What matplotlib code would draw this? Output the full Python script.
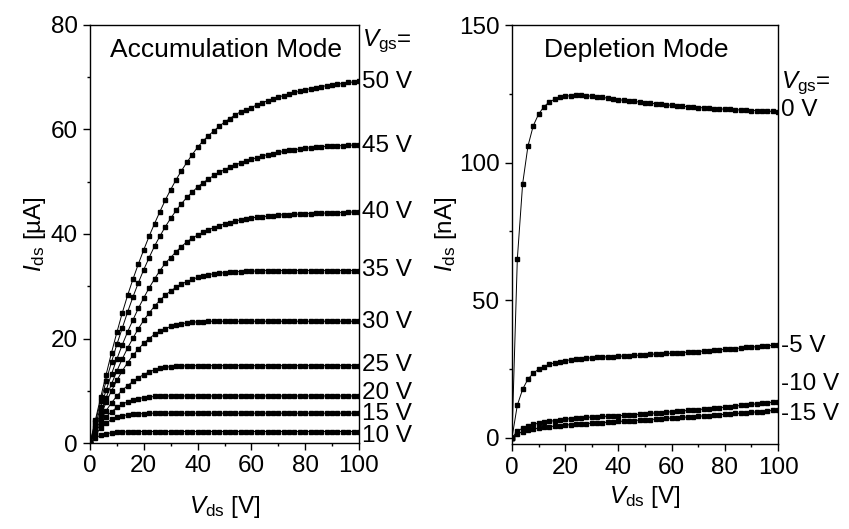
import matplotlib
matplotlib.use("Agg")
import matplotlib.pyplot as plt
from matplotlib.ticker import MultipleLocator

plt.rcParams["font.family"] = ["Liberation Sans", "DejaVu Sans"]
plt.rcParams["mathtext.fontset"] = "custom"
plt.rcParams["mathtext.rm"] = "Liberation Sans"
plt.rcParams["mathtext.it"] = "Liberation Sans:italic"

# drain voltage sweep, every 2 V
vds = list(range(0, 101, 2))

# accumulation mode, I_ds in uA
acc_vgs = ["10 V", "15 V", "20 V", "25 V", "30 V", "35 V", "40 V", "45 V", "50 V"]
acc_10 = [0, 1.0, 1.5, 1.8, 1.95, 2.05, 2.1, 2.15, 2.15, 2.2,
          2.2, 2.2, 2.2, 2.2, 2.2, 2.2, 2.2, 2.2, 2.2, 2.2, 2.2, 2.2, 2.2, 2.2, 2.2, 2.2,
          2.2, 2.2, 2.2, 2.2, 2.2, 2.2, 2.2, 2.2, 2.2, 2.2, 2.2, 2.2, 2.2, 2.2, 2.2, 2.2,
          2.2, 2.2, 2.2, 2.2, 2.2, 2.2, 2.2, 2.2, 2.2]
acc_15 = [0, 1.6, 2.9, 3.8, 4.5, 4.9, 5.2, 5.4, 5.5, 5.6, 5.6, 5.7,
          5.7, 5.7, 5.7, 5.7, 5.7, 5.7, 5.7, 5.7, 5.7, 5.7, 5.7, 5.7, 5.7, 5.7,
          5.7, 5.7, 5.7, 5.7, 5.7, 5.7, 5.7, 5.7, 5.7, 5.7, 5.7, 5.7, 5.7, 5.7,
          5.7, 5.7, 5.7, 5.7, 5.7, 5.7, 5.7, 5.7, 5.7, 5.7, 5.7]
acc_20 = [0, 2.0, 3.7, 5.0, 6.0, 6.8, 7.4, 7.9, 8.3, 8.5, 8.7, 8.8, 8.9, 8.9,
          9.0, 9.0, 9.0, 9.0, 9.0, 9.0, 9.0, 9.0, 9.0, 9.0, 9.0, 9.0, 9.0,
          9.0, 9.0, 9.0, 9.0, 9.0, 9.0, 9.0, 9.0, 9.0, 9.0, 9.0, 9.0, 9.0,
          9.0, 9.0, 9.0, 9.0, 9.0, 9.0, 9.0, 9.0, 9.0, 9.0, 9.0]
acc_25 = [0, 2.3, 4.4, 6.2, 7.7, 9.0, 10.1, 11.0, 11.8, 12.5, 13.1, 13.6,
          14.0, 14.3, 14.5, 14.6, 14.7, 14.7,
          14.8, 14.8, 14.8, 14.8, 14.8, 14.8, 14.8, 14.8, 14.8, 14.8, 14.8,
          14.8, 14.8, 14.8, 14.8, 14.8, 14.8, 14.8, 14.8, 14.8, 14.8, 14.8,
          14.8, 14.8, 14.8, 14.8, 14.8, 14.8, 14.8, 14.8, 14.8, 14.8, 14.8]
acc_30 = [0, 2.7, 5.3, 7.8, 10.0, 12.0, 13.8, 15.4, 16.8, 18.0, 19.1, 20.0,
          20.8, 21.4, 21.9, 22.3, 22.6, 22.8, 23.0, 23.1, 23.2, 23.2,
          23.3, 23.3, 23.3, 23.3, 23.3, 23.3, 23.3, 23.3, 23.3, 23.3, 23.3,
          23.3, 23.3, 23.3, 23.3, 23.3, 23.3, 23.3, 23.3, 23.3, 23.3, 23.3,
          23.3, 23.3, 23.3, 23.3, 23.3, 23.3, 23.3]
acc_35 = [0, 3.0, 5.9, 8.7, 11.3, 13.8, 16.1, 18.2, 20.1, 21.9, 23.5, 24.9,
          26.2, 27.3, 28.3, 29.1, 29.8, 30.4, 30.9, 31.3, 31.7, 32.0, 32.2,
          32.4, 32.5, 32.6, 32.7, 32.8, 32.8, 32.9, 32.9, 32.9,
          33.0, 33.0, 33.0, 33.0, 33.0, 33.0, 33.0, 33.0, 33.0, 33.0,
          33.0, 33.0, 33.0, 33.0, 33.0, 33.0, 33.0, 33.0, 33.0]
acc_40 = [0, 3.5, 6.9, 10.1, 13.2, 16.1, 18.8, 21.3, 23.6, 25.8, 27.8, 29.7,
          31.4, 33.0, 34.4, 35.5, 36.6, 37.6, 38.5, 39.2, 39.8, 40.3, 40.8,
          41.2, 41.6, 41.9, 42.2, 42.5, 42.7, 42.9, 43.1, 43.2, 43.3, 43.4,
          43.5, 43.6, 43.7, 43.7, 43.8, 43.8, 43.9, 43.9, 44.0, 44.0, 44.0,
          44.1, 44.1, 44.1, 44.2, 44.2, 44.2]
acc_45 = [0, 4.0, 8.0, 11.9, 15.5, 18.9, 22.0, 25.1, 28.0, 30.7, 33.2, 35.5,
          37.7, 39.6, 41.4, 43.0, 44.5, 45.8, 47.0, 48.0, 49.0, 49.8, 50.5,
          51.2, 51.8, 52.3, 52.8, 53.2, 53.6, 54.0, 54.3, 54.6, 54.9, 55.2,
          55.4, 55.6, 55.8, 56.0, 56.1, 56.3, 56.4, 56.5, 56.6, 56.7, 56.8,
          56.8, 56.9, 56.9, 57.0, 57.0, 57.1]
acc_50 = [0, 4.4, 8.8, 13.1, 17.3, 21.2, 24.9, 28.3, 31.4, 34.3, 37.0, 39.6,
          42.0, 44.3, 46.5, 48.5, 50.4, 52.1, 53.7, 55.2, 56.6, 57.8, 58.8,
          59.7, 60.6, 61.4, 62.1, 62.8, 63.4, 63.8, 64.2, 64.7, 65.1, 65.5,
          65.9, 66.2, 66.5, 66.8, 67.1, 67.3, 67.6, 67.8, 68.0, 68.2, 68.4,
          68.5, 68.7, 68.8, 69.0, 69.1, 69.3]
acc_curves = [acc_10, acc_15, acc_20, acc_25, acc_30, acc_35, acc_40, acc_45, acc_50]

# depletion mode, I_ds in nA
dep_vgs = ["0 V", "-5 V", "-10 V", "-15 V"]
dep_0 = [0, 64.9, 92.3, 106.0, 113.4, 117.6, 120.3, 122.0, 123.0, 123.7, 124.1,
         124.3, 124.4, 124.4, 124.3, 124.1, 123.9, 123.7, 123.4, 123.1, 122.9,
         122.6, 122.4, 122.2, 122.0, 121.8, 121.6, 121.4, 121.2, 121.0, 120.8,
         120.6, 120.5, 120.3, 120.1, 120.0, 119.9, 119.7, 119.6, 119.5, 119.4,
         119.3, 119.2, 119.1, 119.0, 118.9, 118.9, 118.8, 118.7, 118.6, 118.5]
dep_m5 = [0, 11.8, 17.6, 21.3, 23.4, 24.9, 25.8, 26.6, 27.2, 27.6, 28.0,
          28.3, 28.5, 28.7, 28.9, 29.0, 29.2, 29.3, 29.4, 29.5, 29.6,
          29.7, 29.8, 29.9, 30.0, 30.1, 30.3, 30.4, 30.5, 30.6, 30.7,
          30.8, 30.9, 31.1, 31.2, 31.3, 31.5, 31.6, 31.8, 31.9, 32.1,
          32.3, 32.4, 32.6, 32.8, 32.9, 33.1, 33.3, 33.4, 33.6, 33.8]
dep_m10 = [0, 2.3, 3.5, 4.3, 4.8, 5.3, 5.6, 5.9, 6.2, 6.5, 6.7,
           6.9, 7.1, 7.2, 7.4, 7.5, 7.6, 7.7, 7.8, 7.9, 8.0,
           8.1, 8.3, 8.4, 8.5, 8.7, 8.8, 9.0, 9.1, 9.3, 9.4,
           9.6, 9.7, 9.9, 10.0, 10.2, 10.4, 10.5, 10.7, 10.9, 11.1,
           11.3, 11.5, 11.7, 11.9, 12.1, 12.3, 12.5, 12.7, 12.9, 13.1]
dep_m15 = [0, 1.4, 2.2, 2.7, 3.1, 3.5, 3.8, 4.0, 4.2, 4.4, 4.6,
           4.7, 4.9, 5.0, 5.1, 5.3, 5.4, 5.5, 5.6, 5.8, 5.9,
           6.0, 6.1, 6.2, 6.4, 6.5, 6.6, 6.7, 6.8, 7.0, 7.1,
           7.2, 7.4, 7.5, 7.6, 7.8, 7.9, 8.0, 8.2, 8.3, 8.5,
           8.6, 8.8, 8.9, 9.1, 9.2, 9.4, 9.5, 9.7, 9.9, 10.1]
dep_curves = [dep_0, dep_m5, dep_m10, dep_m15]

# label heights (data units) next to the right spine
acc_label_y = [1.3, 5.6, 9.6, 14.9, 23.2, 33.1, 44.2, 56.8, 69.1]
dep_label_y = [119.0, 33.4, 19.6, 8.7]

FS = 17.5
line_kw = dict(color="black", lw=0.7, marker="s", ms=2.7, mec="black", mfc="black")


def style_axes(ax):
    for side in ("top", "right", "left", "bottom"):
        ax.spines[side].set_linewidth(1.0)
    ax.tick_params(which="both", direction="out", top=False, right=False, labelsize=FS, width=1.0)
    ax.tick_params(which="major", length=5, pad=4)
    ax.tick_params(which="minor", length=2.5)


fig = plt.figure(figsize=(8.49, 5.29), dpi=100)

# left panel
ax1 = fig.add_axes([90 / 849, 86 / 529, 269 / 849, 418 / 529])
for cur in acc_curves:
    ax1.plot(vds, cur, **line_kw)
ax1.set_xlim(0, 100)
ax1.set_ylim(0, 80)
ax1.xaxis.set_major_locator(MultipleLocator(20))
ax1.xaxis.set_minor_locator(MultipleLocator(10))
ax1.yaxis.set_major_locator(MultipleLocator(20))
ax1.yaxis.set_minor_locator(MultipleLocator(10))
style_axes(ax1)
ax1.set_xlabel(r"$\mathit{V}_{\mathrm{ds}}$ [V]", fontsize=FS, labelpad=12)
ax1.set_ylabel(r"$\mathit{I}_{\mathrm{ds}}$ [µA]", fontsize=FS, labelpad=2)
ax1.text(0.075, 0.97, "Accumulation Mode", transform=ax1.transAxes, fontsize=19,
         ha="left", va="top")
ax1.text(1.01, 0.96, r"$\mathit{V}_{\mathrm{gs}}$=", transform=ax1.transAxes, fontsize=FS,
         ha="left", va="center", clip_on=False)
for lab, y in zip(acc_vgs, acc_label_y):
    ax1.text(101, y, lab, fontsize=FS, ha="left", va="center", clip_on=False)

# right panel
ax2 = fig.add_axes([512 / 849, 85 / 529, 266 / 849, 419 / 529])
for cur in dep_curves:
    ax2.plot(vds, cur, **line_kw)
ax2.set_xlim(0, 100)
ax2.set_ylim(-2.3, 150)
ax2.xaxis.set_major_locator(MultipleLocator(20))
ax2.xaxis.set_minor_locator(MultipleLocator(10))
ax2.yaxis.set_major_locator(MultipleLocator(50))
ax2.yaxis.set_minor_locator(MultipleLocator(25))
style_axes(ax2)
ax2.set_xlabel(r"$\mathit{V}_{\mathrm{ds}}$ [V]", fontsize=FS, labelpad=4)
ax2.set_ylabel(r"$\mathit{I}_{\mathrm{ds}}$ [nA]", fontsize=FS, labelpad=0)
ax2.text(0.12, 0.97, "Depletion Mode", transform=ax2.transAxes, fontsize=19,
         ha="left", va="top")
ax2.text(1.01, 0.86, r"$\mathit{V}_{\mathrm{gs}}$=", transform=ax2.transAxes, fontsize=FS,
         ha="left", va="center", clip_on=False)
for lab, y in zip(dep_vgs, dep_label_y):
    ax2.text(101, y, lab, fontsize=FS, ha="left", va="center", clip_on=False)

fig.savefig("out.png", dpi=100)
